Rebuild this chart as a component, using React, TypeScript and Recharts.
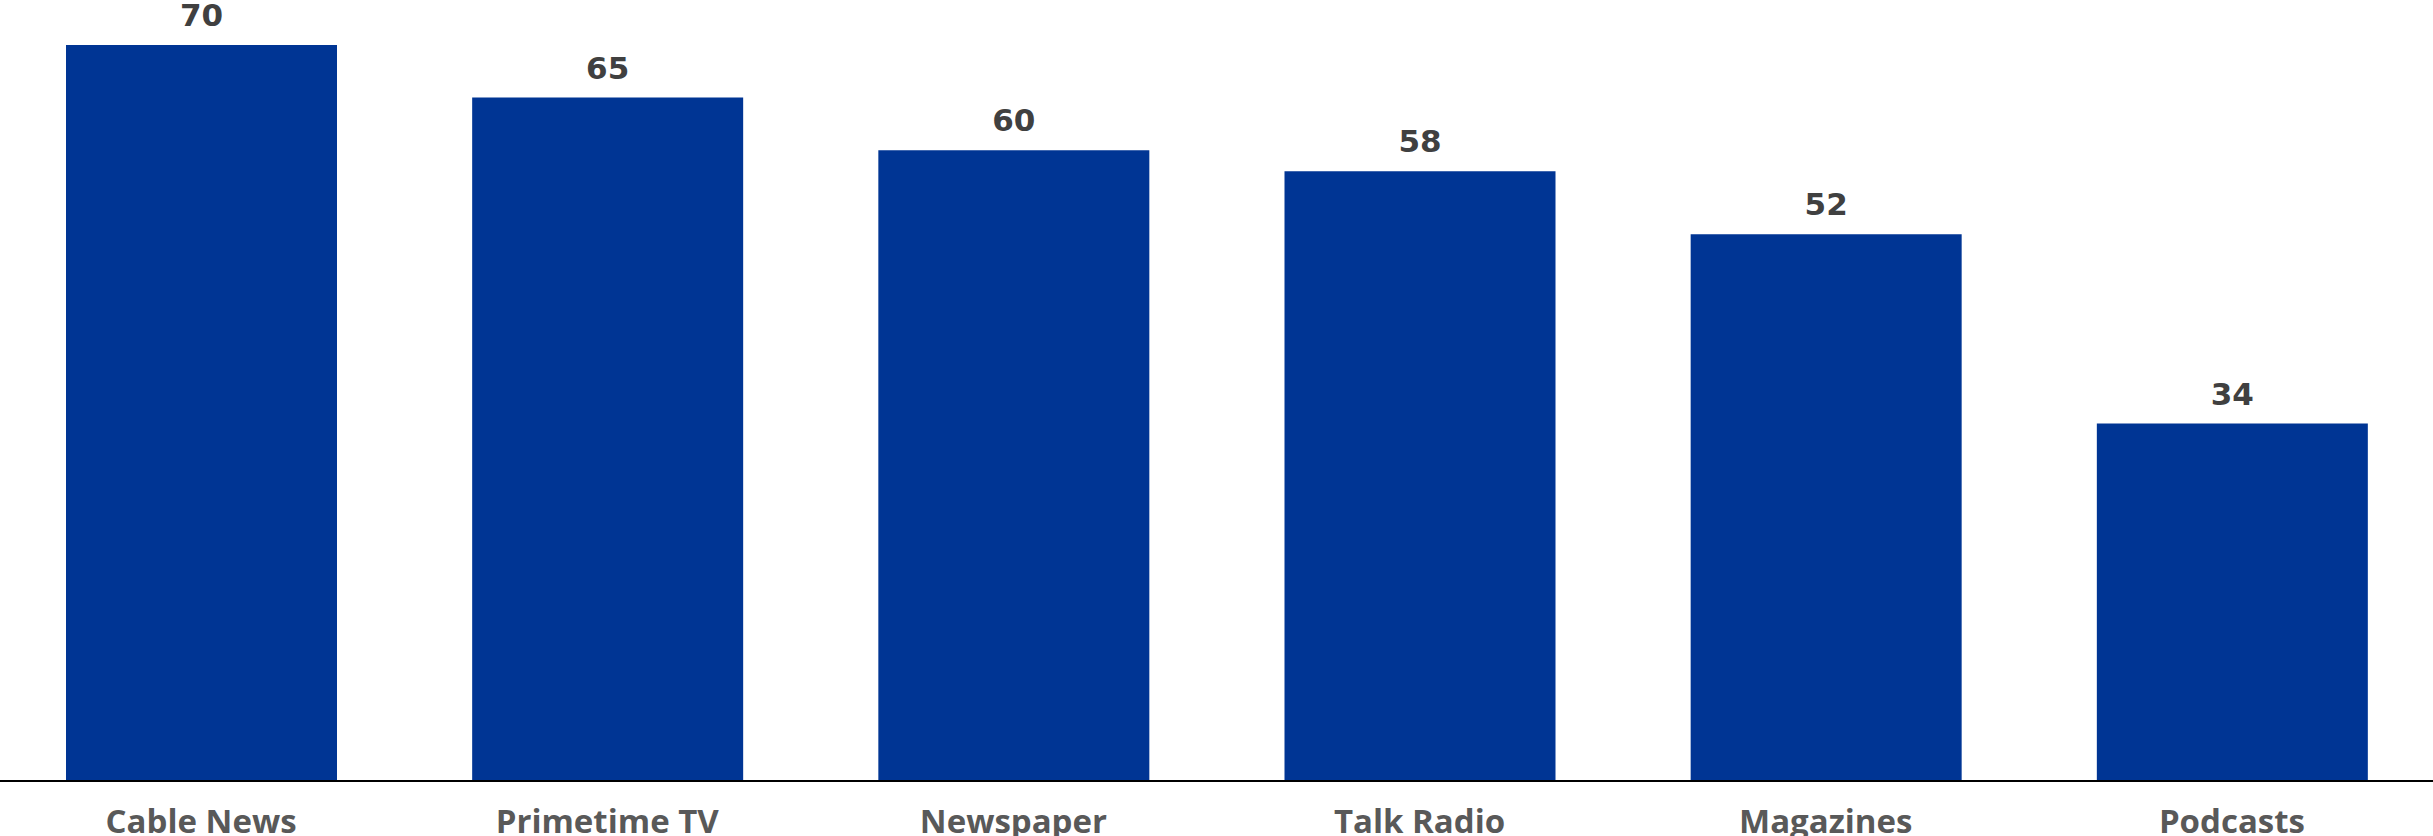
import React from "react";
import { BarChart, Bar, XAxis, YAxis, LabelList } from "recharts";

const categories = ["Cable News", "Primetime TV", "Newspaper", "Talk Radio", "Magazines", "Podcasts"];
const values = [70, 65, 60, 58, 52, 34];

const data = categories.map((name, i) => ({ name, value: values[i] }));

export default function App() {
  return (
    <div
      style={{
        position: "absolute",
        left: 0,
        top: 0,
        width: 2433,
        height: 836,
        overflow: "hidden",
        background: "#ffffff",
      }}
    >
      <div style={{ marginLeft: -2 }}>
        <BarChart width={2437} height={836} data={data} margin={{ top: 45, right: 0, left: 0, bottom: 0 }}>
          <XAxis
            dataKey="name"
            height={55}
            axisLine={{ stroke: "#000000", strokeWidth: 2 }}
            tickLine={false}
            tickSize={0}
            tickMargin={29}
            interval={0}
            tick={{ fill: "#595959", fontSize: 33, fontWeight: 700, fontFamily: "'Open Sans', sans-serif" }}
          />
          <YAxis hide domain={[0, 70]} />
          <Bar dataKey="value" fill="#003594" barSize={271} isAnimationActive={false}>
            <LabelList
              dataKey="value"
              position="top"
              offset={19}
              style={{ fill: "#404040", fontSize: 31, fontWeight: 700, fontFamily: "'DejaVu Sans', sans-serif" }}
            />
          </Bar>
        </BarChart>
      </div>
    </div>
  );
}
